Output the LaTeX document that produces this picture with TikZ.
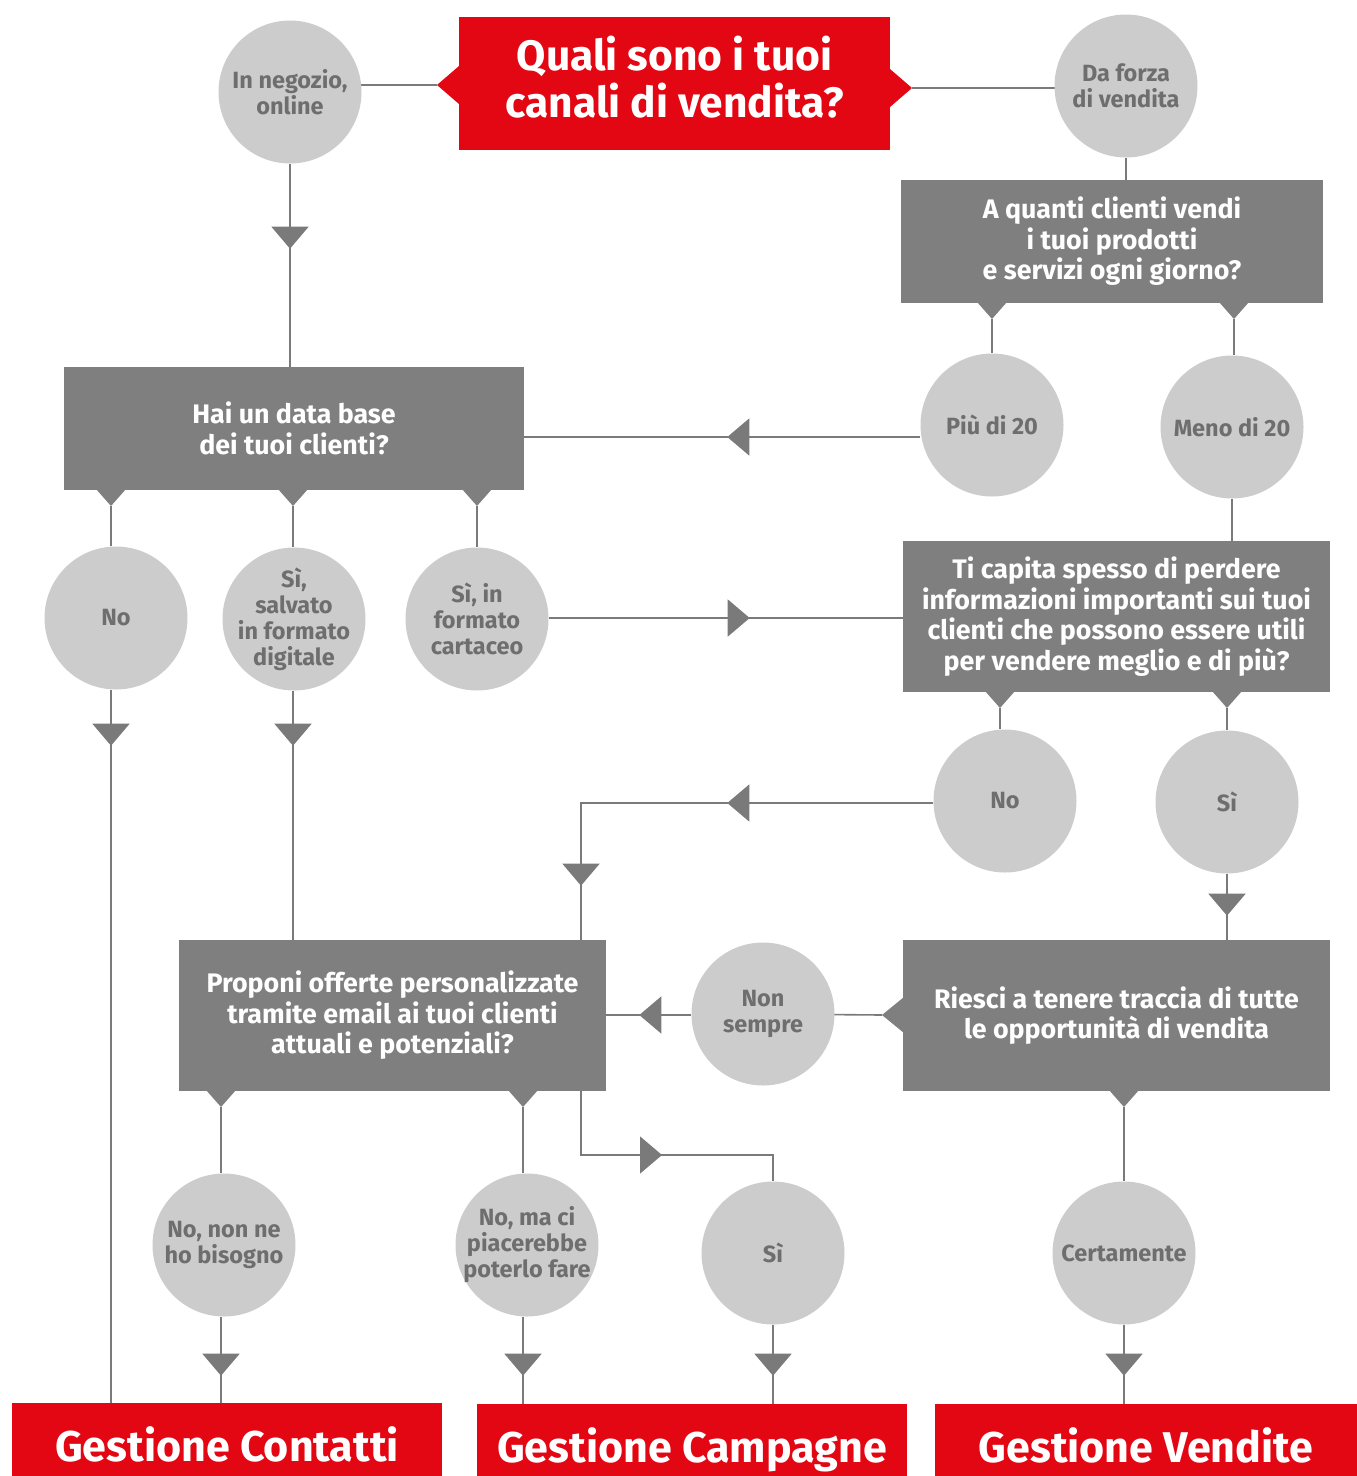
\documentclass[tikz,border=0pt]{standalone}
\usepackage{fontspec}
\setmainfont{Fira Sans}
\newfontfamily\condfont{Fira Sans}
\usetikzlibrary{arrows.meta,decorations.markings,backgrounds}
\definecolor{vred}{HTML}{E30613}
\definecolor{boxgray}{HTML}{7F7F7F}
\definecolor{circgray}{HTML}{CCCCCC}
\definecolor{circtext}{HTML}{6E6E6E}
\definecolor{linegray}{HTML}{7A7A7A}
\tikzset{
  tri/.tip={Triangle[length=22pt,width=37pt,color=linegray,fill=linegray]},
  conn/.style={draw=linegray,line width=1.6pt},
  midarr/.style={postaction={decorate,decoration={markings,mark=at position #1 with {\arrow{tri}}}}},
  circ/.style={circle,fill=circgray,minimum size=143pt,inner sep=-20pt,text=circtext,align=center,
    font=\condfont\bfseries\fontsize{23.5}{26}\selectfont},
  qbox/.style={rectangle,fill=boxgray,inner sep=0pt,text=white,align=center,
    font=\condfont\bfseries\fontsize{26.8}{30.5}\selectfont},
  redbox/.style={rectangle,fill=vred,inner sep=0pt,text=white,align=center,
    font=\condfont\bfseries\fontsize{43}{44}\selectfont},
}
\begin{document}
\begin{tikzpicture}[x=1pt,y=-1pt]
\useasboundingbox (0,0) rectangle (1357,1476);
% title
\node[redbox,minimum width=431pt,minimum height=133pt,font=\condfont\bfseries\fontsize{42.5}{44}\selectfont] (title) at (674.5,83.5) {\raisebox{6pt}{\begin{tabular}{@{}c@{}}Quali sono i tuoi\\[-1pt]canali di vendita?\end{tabular}}};
\fill[vred] (459,66) -- (437,85) -- (459,104) -- cycle;
\fill[vred] (890,69) -- (912,88) -- (890,107) -- cycle;
\coordinate (tipL) at (437,85);
\coordinate (tipR) at (912,88);
% question boxes
\node[qbox,minimum width=422pt,minimum height=123pt] (q2) at (1112,241.5) {A quanti clienti vendi\\i tuoi prodotti\\e servizi ogni giorno?};
\node[qbox,minimum width=460pt,minimum height=123pt] (q3) at (294,428.5) {Hai un data base\\dei tuoi clienti?};
\node[qbox,minimum width=427pt,minimum height=151pt] (q4) at (1116.5,616.5) {Ti capita spesso di perdere\\informazioni importanti sui tuoi\\clienti che possono essere utili\\per vendere meglio e di più?};
\node[qbox,minimum width=427pt,minimum height=151pt] (q5) at (392.5,1015.5) {Proponi offerte personalizzate\\tramite email ai tuoi clienti\\attuali e potenziali?};
\node[qbox,minimum width=427pt,minimum height=151pt] (q6) at (1116.5,1015.5) {Riesci a tenere traccia di tutte\\le opportunità di vendita};
% notches
\foreach \nx/\ny/\nm in {992/303/q2a,1234/303/q2b,111/490/q3a,293/490/q3b,477/490/q3c,1000/692/q4a,1227/692/q4b,221/1091/q5a,523/1091/q5b,1124/1091/q6a}{
  \fill[boxgray] (\nx-15,\ny-1) -- (\nx,\ny+16) -- (\nx+15,\ny-1) -- cycle;
  \coordinate (\nm) at (\nx,\ny+16);
}
\fill[boxgray] (904,997) -- (882,1015) -- (904,1033) -- cycle;
\coordinate (q6tip) at (882,1015);
\coordinate (q5out) at (581,1091);
% circles
\node[circ] (c1) at (290,92) {In negozio,\\online};
\node[circ] (c2) at (1126,86) {Da forza\\di vendita};
\node[circ] (c3) at (992,425) {Più di 20};
\node[circ] (c4) at (1232,427) {Meno di 20};
\node[circ] (c5) at (116,618) {No};
\node[circ] (c6) at (294,619) {Sì,\\salvato\\in formato\\digitale};
\node[circ] (c7) at (477,619) {Sì, in\\formato\\cartaceo};
\node[circ] (c8) at (1005,801) {No};
\node[circ] (c9) at (1227,802) {Sì};
\node[circ] (c10) at (763,1014) {Non\\sempre};
\node[circ] (c11) at (224,1245) {No, non ne\\ho bisogno};
\node[circ] (c12) at (527,1245) {No, ma ci\\piacerebbe\\poterlo fare};
\node[circ] (c13) at (773,1253) {Sì};
\node[circ] (c14) at (1124,1253) {Certamente};
% result boxes
\node[redbox,minimum width=430pt,minimum height=73pt] (r1) at (227,1439.5) {\raisebox{-22pt}[0pt][0pt]{Gestione Contatti}};
\node[redbox,minimum width=430pt,minimum height=72pt] (r2) at (692,1440) {\raisebox{-22pt}[0pt][0pt]{Gestione Campagne}};
\node[redbox,minimum width=422pt,minimum height=72pt] (r3) at (1146,1440) {\raisebox{-22pt}[0pt][0pt]{Gestione Vendite}};
% connectors
\begin{scope}[on background layer]
\draw[conn] (tipL) -- (tipL -| c1.center);
\draw[conn] (tipR) -- (tipR -| c2.center);
\draw[conn,midarr=85pt] (c1.south) -- (c1.south |- q3.north);
\draw[conn] (c2.south) -- (c2.south |- q2.north);
\draw[conn] (q2a) -- (q2a |- c3.north);
\draw[conn] (q2b) -- (q2b |- c4.north);
\draw[conn,midarr=193pt] ([yshift=-12pt]c3.west) -- ([yshift=-12pt]c3.west -| q3.east);
\draw[conn] (q3a) -- (q3a |- c5.north);
\draw[conn] (q3b) -- (q3b |- c6.north);
\draw[conn] (q3c) -- (q3c |- c7.north);
\draw[conn,midarr=56pt] (q3a |- c5.south) -- (q3a |- r1.north);
\draw[conn,midarr=55pt] (q3b |- c6.south) -- (q3b |- q5.north);
\draw[conn,midarr=201pt] ([yshift=1pt]c7.east) -- ([yshift=1pt]c7.east -| q4.west);
\draw[conn] (c4.south) -- (c4.south |- q4.north);
\draw[conn] (q4a) -- (q4a |- c8.north);
\draw[conn] (q4b) -- (q4b |- c9.north);
\draw[conn,midarr=206pt,midarr=435pt] ([yshift=-2pt]c8.west) -| (q5out |- q5.north);
\draw[conn,midarr=42pt] (c9.south) -- (c9.south |- q6.north);
\draw[conn] (q6tip) -- (c10.center);
\draw[conn,midarr=52pt] ([yshift=-1pt]c10.west) -- ([yshift=-1pt]c10.west -| q5.east);
\coordinate (bend) at (581,1155);
\draw[conn,midarr=145pt] (q5out) -- (bend) -- (bend -| c13.north) -- (c13.north);
\draw[conn] (q5a) -- (q5a |- c11.north);
\draw[conn] (q5b) -- (q5b |- c12.north);
\draw[conn,midarr=59pt] (q5a |- c11.south) -- (q5a |- r1.north);
\draw[conn,midarr=59pt] (q5b |- c12.south) -- (q5b |- r2.north);
\draw[conn,midarr=51pt] (c13.south) -- (c13.south |- r2.north);
\draw[conn] (q6a) -- (q6a |- c14.north);
\draw[conn,midarr=51pt] (c14.south) -- (c14.south |- r3.north);
\end{scope}
\end{tikzpicture}
\end{document}
